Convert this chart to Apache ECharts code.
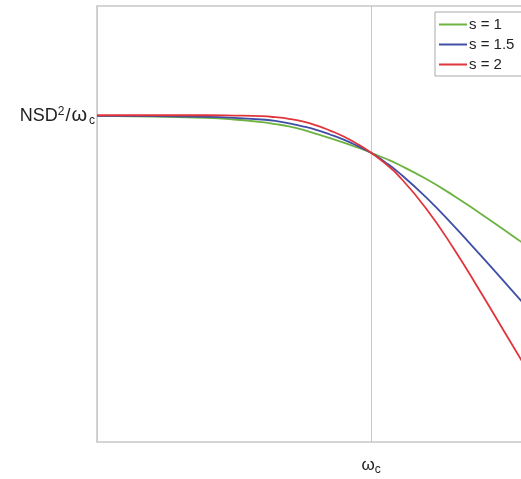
<!DOCTYPE html>
<html>
<head>
<meta charset="utf-8">
<script src="https://cdn.jsdelivr.net/npm/echarts@6/dist/echarts.min.js"></script>
<style>
  html, body { margin: 0; padding: 0; background: #fff; }
  #main { width: 521px; height: 479px; }
</style>
</head>
<body>
<div id="main"></div>
<script>
// x in units of omega_c, y in units of NSD^2/omega_c
var xData = [0, 0.2, 0.4, 0.5, 0.6, 0.65, 0.7, 0.75, 0.8, 0.85, 0.9, 0.95, 1.0, 1.05, 1.1, 1.2, 1.3, 1.4, 1.5, 1.6];
var s1 = [1.000, 0.998, 0.994, 0.989, 0.981, 0.975, 0.968, 0.958, 0.945, 0.932, 0.918, 0.903, 0.887, 0.870, 0.851, 0.807, 0.756, 0.700, 0.642, 0.582];
var s15 = [1.000, 0.999, 0.997, 0.994, 0.989, 0.985, 0.977, 0.968, 0.957, 0.943, 0.927, 0.908, 0.887, 0.859, 0.827, 0.751, 0.664, 0.572, 0.478, 0.383];
var s2 = [1.002, 1.002, 1.002, 1.001, 0.999, 0.996, 0.991, 0.983, 0.971, 0.955, 0.937, 0.914, 0.887, 0.855, 0.817, 0.717, 0.595, 0.459, 0.319, 0.179];
var names = ['s = 1', 's = 1.5', 's = 2'];
var colors = ['#6db33f', '#3f4ea6', '#e0353a'];

function pairs(ys) {
  return xData.map(function (x, i) { return [x, ys[i]]; });
}

var myChart = echarts.init(document.getElementById('main'));

var frame = { show: true, lineStyle: { color: '#c8c8c8', width: 1.5 } };

var option = {
  animation: false,
  textStyle: { fontFamily: 'Liberation Sans, Arial, sans-serif' },
  grid: { left: 97, top: 6, bottom: 37, right: 0, show: false },
  legend: {
    data: names,
    orient: 'vertical',
    left: 435, top: 12,
    icon: 'rect',
    itemWidth: 28, itemHeight: 2, itemGap: 5,
    padding: [5, 30, 4, 4],
    borderColor: '#aaa', borderWidth: 1,
    textStyle: { fontSize: 15, color: '#222', padding: [0, 0, 0, -3] }
  },
  xAxis: [{
    type: 'value', min: 0, max: 1.547, interval: 1,
    axisLine: frame, axisTick: { show: false },
    splitLine: { show: true, lineStyle: { color: '#c8c8c8', width: 1 } },
    axisLabel: {
      margin: 13, showMinLabel: false, showMaxLabel: false,
      formatter: function (v) { return v === 1 ? '{a|ω}{b|c}' : ''; },
      rich: {
        a: { fontSize: 17, color: '#222' },
        b: { fontSize: 12, color: '#222', padding: [9, 0, 0, 0] }
      }
    }
  }, {
    type: 'value', position: 'top', min: 0, max: 1.547,
    axisLine: frame, axisTick: { show: false },
    axisLabel: { show: false }, splitLine: { show: false }
  }],
  yAxis: {
    type: 'value', min: 0, max: 1.337, interval: 1,
    axisLine: frame, axisTick: { show: false },
    splitLine: { show: false },
    axisLabel: {
      margin: 2, showMinLabel: false, showMaxLabel: false,
      formatter: function (v) { return v === 1 ? '{a|NSD}{s|2}{a|/}{w|ω}{b|c}' : ''; },
      rich: {
        a: { fontSize: 18, color: '#222' },
        w: { fontSize: 20, color: '#222', padding: [0, 2, 0, 1] },
        s: { fontSize: 12, color: '#222', padding: [0, 1, 9, 0] },
        b: { fontSize: 12, color: '#222', padding: [10, 0, 0, 0] }
      }
    }
  },
  series: [s1, s15, s2].map(function (ys, i) {
    return {
      name: names[i],
      type: 'line',
      smooth: true,
      symbol: 'none',
      data: pairs(ys),
      itemStyle: { color: colors[i] },
      lineStyle: { color: colors[i], width: 1.8 }
    };
  })
};

myChart.setOption(option);
</script>
</body>
</html>
